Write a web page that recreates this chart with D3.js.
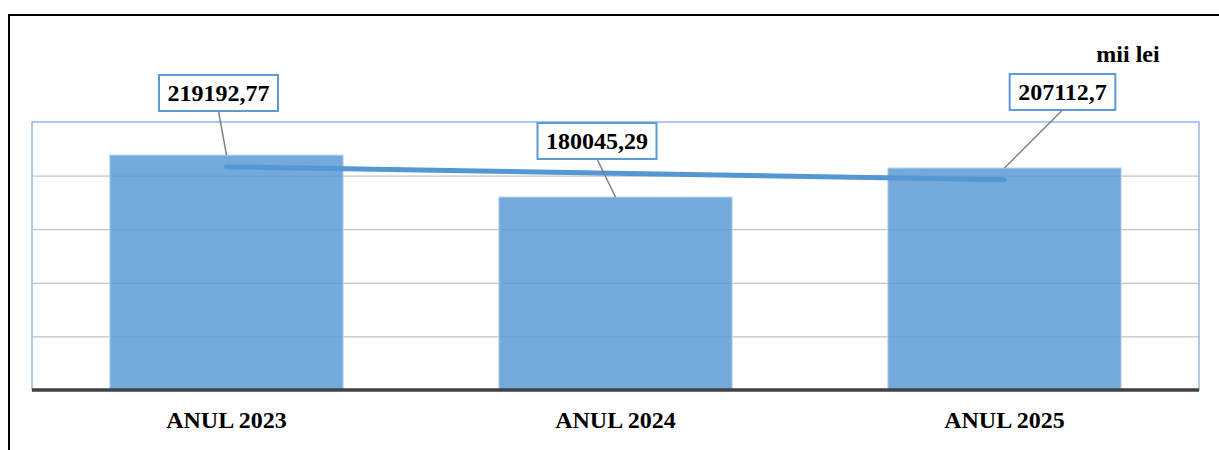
<!DOCTYPE html>
<html>
<head>
<meta charset="utf-8">
<script src="https://cdn.jsdelivr.net/npm/d3@7"></script>
<style>
html,body{margin:0;padding:0;background:#fff;}
svg{display:block;}
text{font-family:"Liberation Serif","Times New Roman",serif;font-weight:bold;fill:#000;}
</style>
</head>
<body>
<svg id="chart" width="1219" height="450"></svg>
<script>
const categories = ["ANUL 2023", "ANUL 2024", "ANUL 2025"];
const values = [219192.77, 180045.29, 207112.7];
const valueLabels = ["219192,77", "180045,29", "207112,7"];
const yTicks = [0, 50000, 100000, 150000, 200000, 250000];
const unitLabel = "mii lei";

// layout (not data)
const labelOffsets = [[-8, -44], [-18.5, -38], [58, -58]];

const svg = d3.select("#chart");
const W = 1219, H = 450;
const plot = {left: 32, right: 1199, top: 122, bottom: 390};

// outer frame
svg.append("path")
  .attr("d", `M9,${H} L9,15 L${W},15`)
  .attr("fill", "none").attr("stroke", "#000").attr("stroke-width", 2);

const x = d3.scaleBand().domain(categories).range([plot.left, plot.right])
  .paddingInner(0.4).paddingOuter(0.2);
const y = d3.scaleLinear().domain([0, 250000]).range([plot.bottom, plot.top]);

// plot area border
svg.append("rect")
  .attr("x", plot.left).attr("y", plot.top)
  .attr("width", plot.right - plot.left).attr("height", plot.bottom - plot.top)
  .attr("fill", "none").attr("stroke", "#8fbbe5").attr("stroke-width", 1.5);

// gridlines
const yAxis = d3.axisLeft(y).tickValues(yTicks.slice(1, -1))
  .tickSize(-(plot.right - plot.left)).tickFormat("");
const ga = svg.append("g").attr("transform", `translate(${plot.left},0)`).call(yAxis);
ga.select(".domain").remove();
ga.selectAll(".tick line").attr("stroke", "#b4b4b4").attr("stroke-width", 1);

// bars
svg.append("g").selectAll("rect").data(values).join("rect")
  .attr("x", (d, i) => x(categories[i]))
  .attr("y", d => y(d))
  .attr("width", x.bandwidth())
  .attr("height", d => y(0) - y(d))
  .attr("fill", "#5b9bd5").attr("fill-opacity", 0.85)
  .attr("stroke", "#c5dcf1").attr("stroke-width", 1);

// x axis
const xAxis = d3.axisBottom(x).tickSize(0).tickPadding(0);
const gx = svg.append("g").attr("transform", `translate(0,${plot.bottom})`).call(xAxis);
gx.select(".domain").attr("stroke", "#404040").attr("stroke-width", 3.5)
  .attr("d", `M${plot.left},0H${plot.right}`);
gx.selectAll(".tick text")
  .attr("y", 38).attr("dy", 0)
  .style("font-family", '"Liberation Serif","Times New Roman",serif')
  .style("font-weight", "bold").style("font-size", "24px").attr("fill", "#000");

// linear trendline
const xi = values.map((d, i) => i);
const mx = d3.mean(xi), my = d3.mean(values);
const slope = d3.sum(xi, i => (i - mx) * (values[i] - my)) / d3.sum(xi, i => (i - mx) ** 2);
const intercept = my - slope * mx;
const cx = i => x(categories[i]) + x.bandwidth() / 2;
svg.append("line")
  .attr("x1", cx(0)).attr("y1", y(intercept))
  .attr("x2", cx(values.length - 1)).attr("y2", y(intercept + slope * (values.length - 1)))
  .attr("stroke", "#5597d3").attr("stroke-width", 5).attr("stroke-linecap", "round");

// data labels with leader lines
const lg = svg.append("g");
values.forEach((v, i) => {
  const bx = cx(i), by = y(v);
  const [dx, dy] = labelOffsets[i];
  const lcx = bx + dx, lbottom = by + dy;
  const h = 36;
  const t = lg.append("text")
    .attr("x", lcx).attr("y", lbottom - h / 2 + 8)
    .attr("text-anchor", "middle").style("font-size", "24px")
    .text(valueLabels[i]);
  const w = t.node().getComputedTextLength() + 17;
  lg.insert("line", "text")
    .attr("x1", lcx).attr("y1", lbottom).attr("x2", bx).attr("y2", by)
    .attr("stroke", "#7f7f7f").attr("stroke-width", 1.5);
  lg.insert("rect", "text")
    .attr("x", lcx - w / 2).attr("y", lbottom - h).attr("width", w).attr("height", h)
    .attr("fill", "#fff").attr("stroke", "#5b9bd5").attr("stroke-width", 2);
});

// unit label
svg.append("text").attr("x", 1128).attr("y", 62).attr("text-anchor", "middle")
  .style("font-size", "24px").text(unitLabel);
</script>
</body>
</html>
